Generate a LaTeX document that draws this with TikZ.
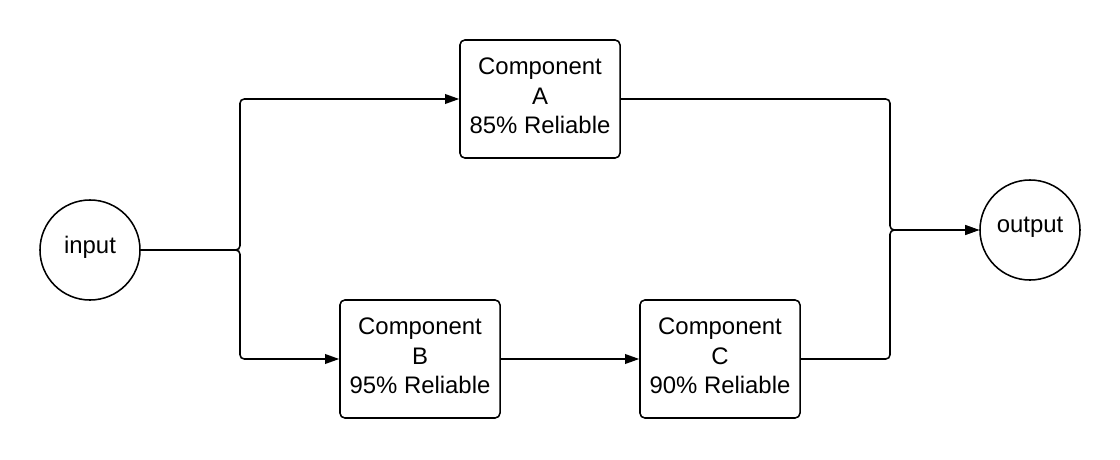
\documentclass[tikz,border=0pt]{standalone}
\usepackage{fontspec}
\setmainfont{Liberation Sans}
\usetikzlibrary{arrows.meta}
\tikzset{
  comp/.style={draw, rounded corners=3.5pt, minimum width=4cm, minimum height=2.95cm, inner sep=0pt, align=center, text depth=0.15cm},
  term/.style={draw, circle, minimum size=2.5cm, inner sep=0pt, text depth=0.27cm},
  link/.style={-{Triangle[length=0.35cm,width=0.24cm]}, rounded corners=3pt}
}
\begin{document}
\begin{tikzpicture}[x=0.025cm, y=-0.025cm, line width=1.1pt, font=\fontsize{17}{21}\selectfont]
	
	\useasboundingbox (0,0) rectangle (1120,460);
	
	%input and output
	\node[term] (input) at (90,250) {input};
	\node[term] (output) at (1030,230) {output};
	
	%components
	\node[comp] (A) at (540,99) {Component\\A\\85\% Reliable};
	\node[comp] (B) at (420,359) {Component\\B\\95\% Reliable};
	\node[comp] (C) at (720,359) {Component\\C\\90\% Reliable};
	
	%junctions
	\coordinate (jl) at (240,250);
	\coordinate (jr) at (890,230);
	
	%connectors
	\draw[link] (input.east) -- (jl) |- (A.west);
	\draw[link] (input.east) -- (jl) |- (B.west);
	\draw[link] (B.east) -- (C.west);
	\draw[link] (A.east) -| (jr) -- (output.west);
	\draw[link] (C.east) -| (jr) -- (output.west);
	
\end{tikzpicture}
\end{document}
